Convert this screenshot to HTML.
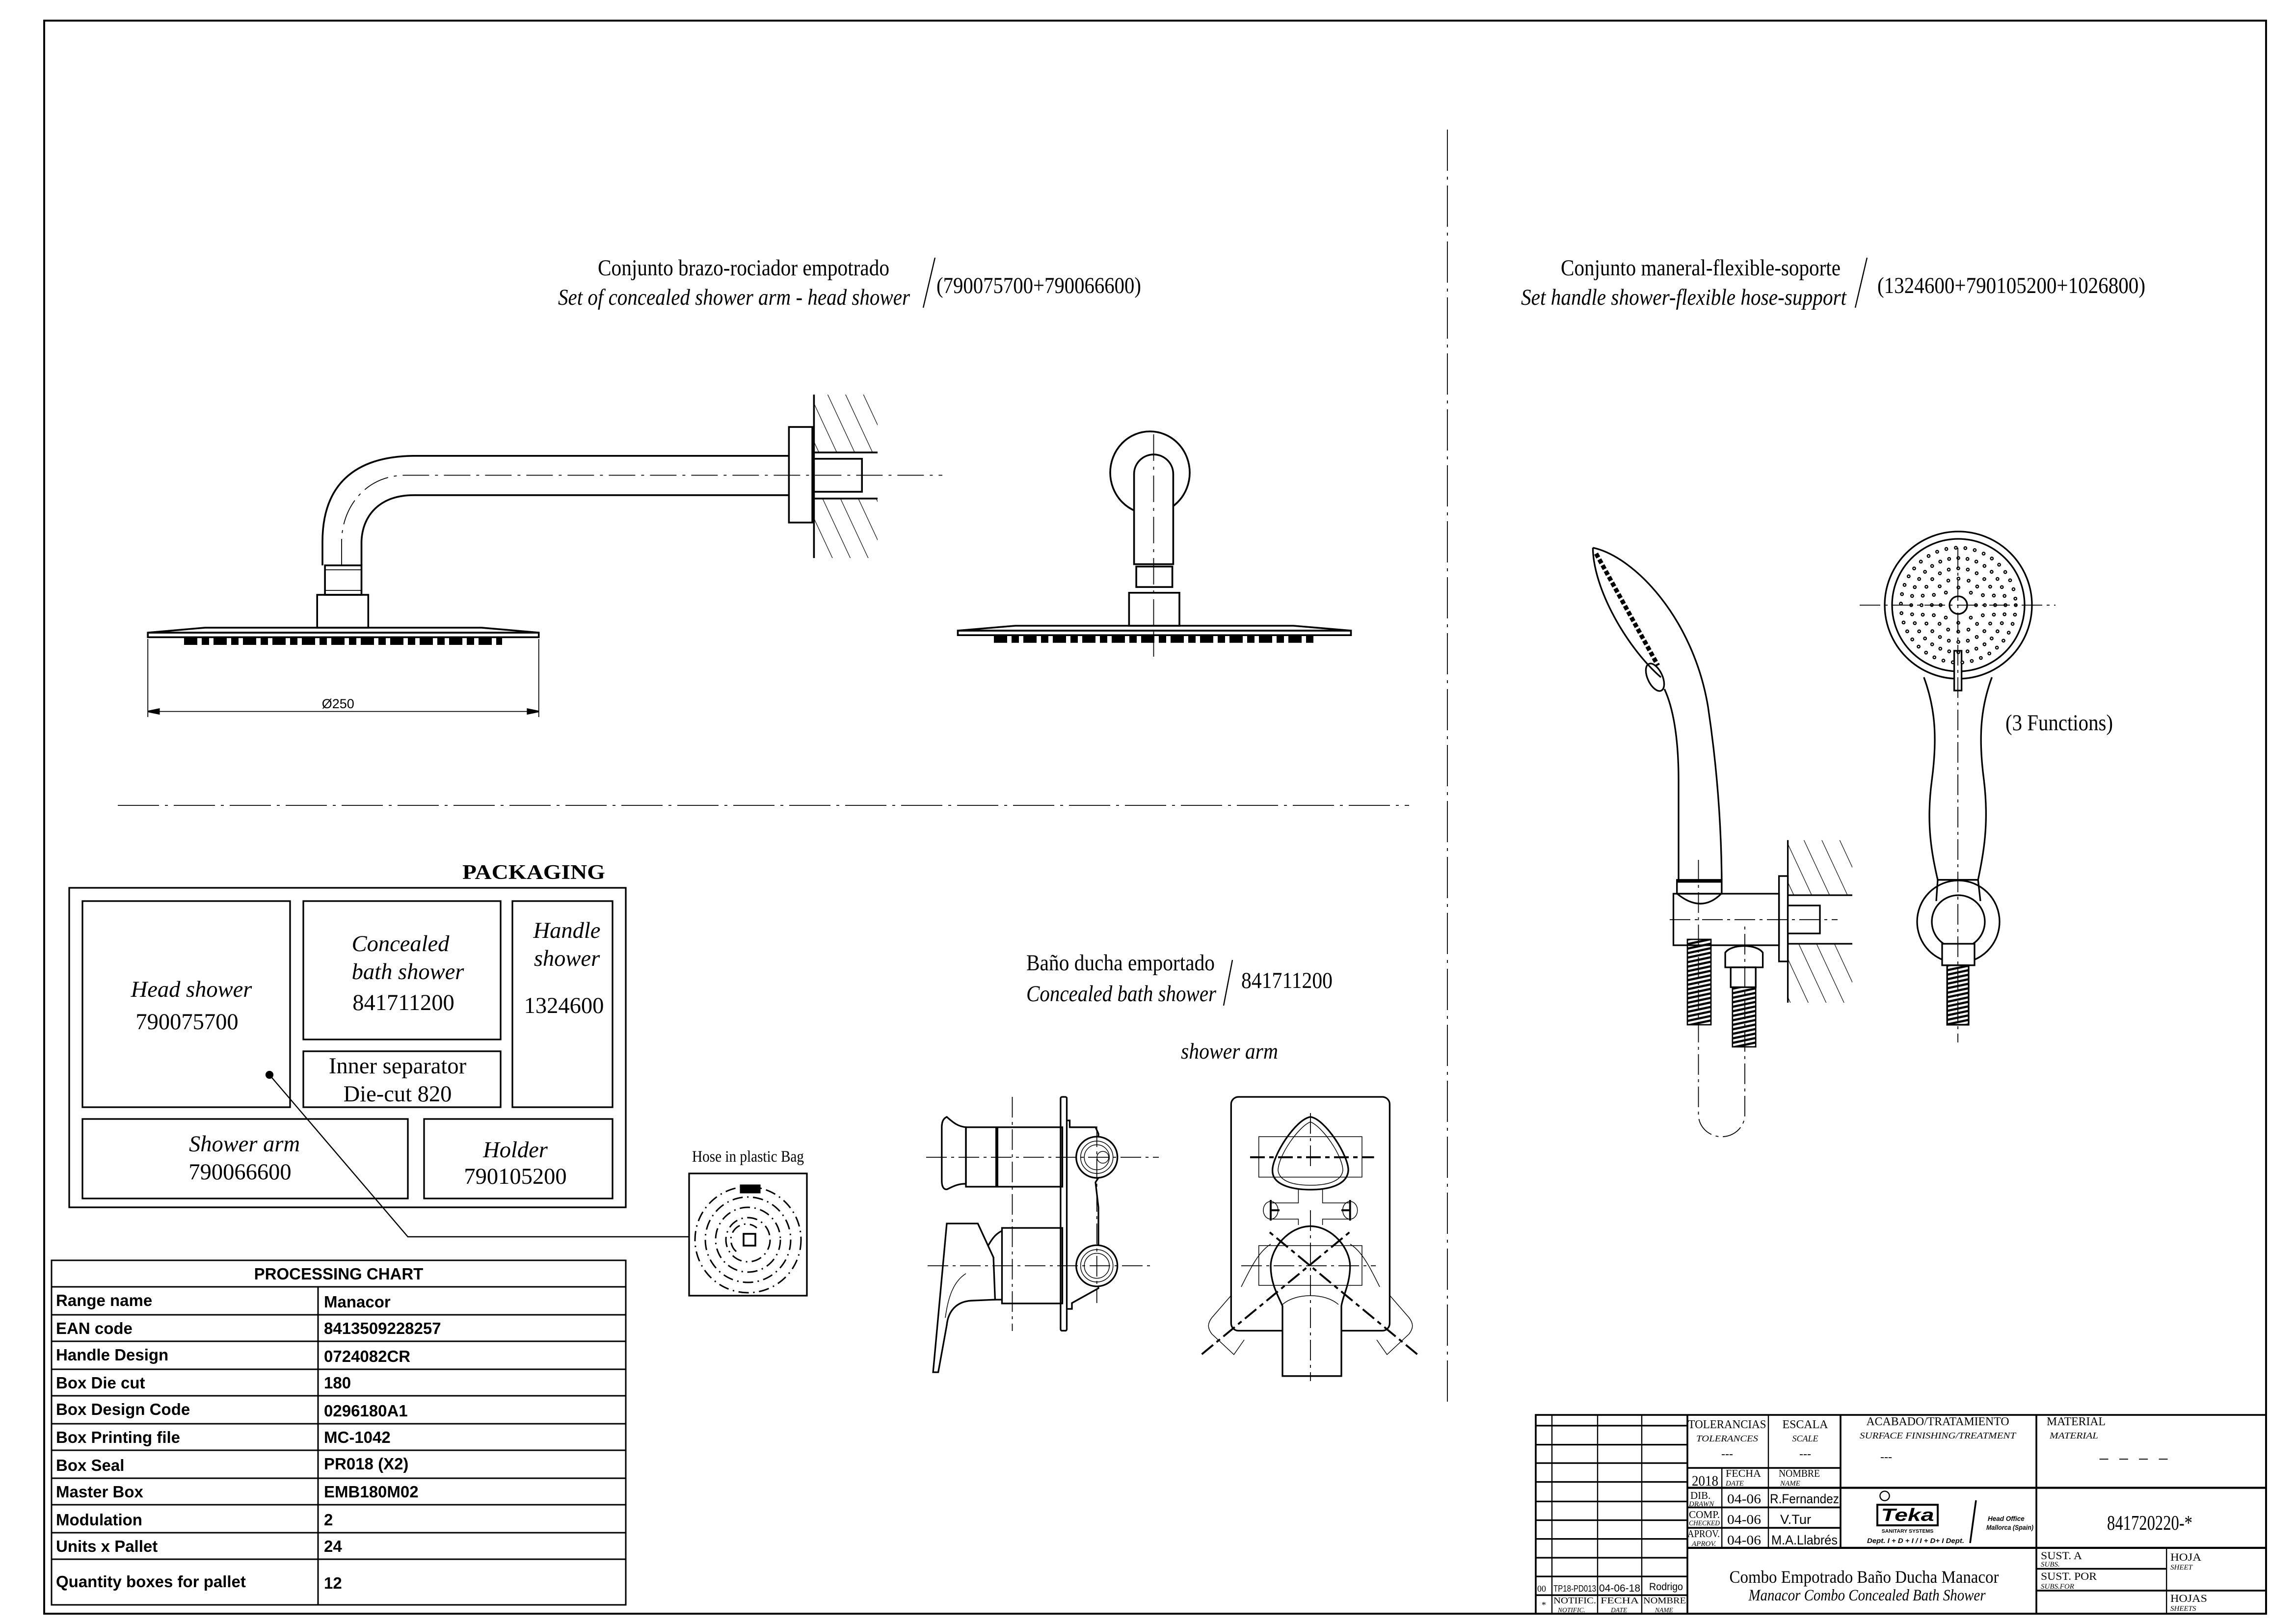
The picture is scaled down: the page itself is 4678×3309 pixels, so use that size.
<!DOCTYPE html>
<html><head><meta charset="utf-8">
<style>
html,body{margin:0;padding:0;background:#fff;}
svg{display:block;}
text{font-family:"Liberation Serif",serif;fill:#000;}
.s{font-family:"Liberation Sans",sans-serif;}
.i{font-style:italic;}
.b{font-weight:bold;}
</style></head>
<body>
<svg xmlns="http://www.w3.org/2000/svg" width="4678" height="3309" viewBox="0 0 1559.33 1103">
<defs>
<pattern id="hp" patternUnits="userSpaceOnUse" width="11" height="11" patternTransform="rotate(-25)">
<line x1="0" y1="0" x2="0" y2="11" stroke="#000" stroke-width="0.8"/>
</pattern>
<pattern id="hs" patternUnits="userSpaceOnUse" width="4" height="3" patternTransform="rotate(-12)">
<line x1="0" y1="1.5" x2="4" y2="1.5" stroke="#000" stroke-width="1.5"/>
</pattern>
<clipPath id="w1" clip-rule="evenodd"><path clip-rule="evenodd" d="M552.8,268H596V379H552.8Z M552.8,307.3V338.6H596V307.3Z"/></clipPath>
<clipPath id="w2" clip-rule="evenodd"><path clip-rule="evenodd" d="M1214.2,570.6H1258V681H1214.2Z M1214.2,608V641H1258V608Z"/></clipPath>
</defs>
<rect x="0" y="0" width="1559.33" height="1103" fill="#fff"/>
<g fill="none" stroke="#000" stroke-linecap="butt">
<rect x="30" y="14" width="1509" height="1082" stroke-width="1.3"/>
<line x1="983" y1="88" x2="983" y2="955" stroke-width="0.6" stroke-dasharray="28 4 2 4"/>
<line x1="80" y1="547" x2="957" y2="547" stroke-width="0.6" stroke-dasharray="28 4 2 4"/>

<!-- Shower arm side view -->
<rect x="552.8" y="268" width="43.2" height="111" fill="url(#hp)" stroke="none" clip-path="url(#w1)"/>
<g stroke-width="1.2">
<path d="M219,384 L219,368 C219,330 240,310 281,309.6 L535.8,309.6"/>
<path d="M245.5,384 L245.5,368 C246,350 258,336.3 281,336.3 L535.8,336.3"/>
<rect x="535.8" y="290" width="15.9" height="64.9"/>
<line x1="552.8" y1="268" x2="552.8" y2="379"/>
<line x1="552.8" y1="307.3" x2="596" y2="307.3"/>
<line x1="552.8" y1="338.6" x2="596" y2="338.6"/>
<rect x="552.8" y="311.6" width="32.6" height="22.4" fill="#fff"/>
<rect x="220.7" y="384" width="24.8" height="20"/>
<line x1="220.7" y1="387" x2="245.5" y2="387" stroke-width="0.6"/>
<line x1="220.7" y1="401" x2="245.5" y2="401" stroke-width="0.6"/>
<rect x="215.4" y="404" width="34.7" height="22.3"/>
<path d="M100.4,429.7 L139.3,426.3 L327,426.3 L365.9,429.7 Z"/>
<rect x="100.4" y="429.7" width="265.5" height="3.1"/>
</g>
<line x1="125" y1="435.5" x2="341" y2="435.5" stroke-width="5" stroke-dasharray="9 3 5 3"/>
<path d="M232,384 L232,368 C232,345 248,323 275,322.8 L640,322.8" stroke-width="0.6" stroke-dasharray="18 4 2 4"/>
<g stroke-width="0.6">
<line x1="100.4" y1="434" x2="100.4" y2="487"/>
<line x1="365.9" y1="434" x2="365.9" y2="487"/>
<line x1="100.4" y1="483.2" x2="365.9" y2="483.2"/>
</g>
<path d="M100.4,483.2 L108,481.6 L108,484.8Z M365.9,483.2 L358.3,481.6 L358.3,484.8Z" fill="#000"/>

<!-- Shower arm front view -->
<g stroke-width="1.2">
<ellipse cx="781" cy="321" rx="27" ry="28"/>
<path d="M770.2,383.2 L770.2,322 A13.3,13.3 0 0 1 796.8,322 L796.8,383.2 Z" fill="#fff"/>
<rect x="771.7" y="384.8" width="24.5" height="13.9"/>
<rect x="766.8" y="402.6" width="34.2" height="22.4"/>
<path d="M650.5,428.3 L689.5,425 L878.5,425 L917.5,428.3 Z"/>
<rect x="650.5" y="428.3" width="267" height="3.1"/>
</g>
<line x1="675" y1="434.3" x2="895" y2="434.3" stroke-width="4.6" stroke-dasharray="9 3 5 3"/>
<line x1="783.5" y1="295" x2="783.5" y2="446" stroke-width="0.6" stroke-dasharray="18 4 2 4"/>

<!-- Hand shower side view -->
<rect x="1214.2" y="570.6" width="43.8" height="110.4" fill="url(#hp)" stroke="none" clip-path="url(#w2)"/>
<g stroke-width="1.1">
<path d="M1081.8,372 C1110,378 1150,420 1160,480 C1166,520 1169,560 1169.3,597.6"/>
<path d="M1130.4,468 C1136,480 1140,500 1140,530 L1140,597.6"/>
<path d="M1081.8,372 C1082,400 1105,440 1128,460"/>
<path d="M1084,376 L1126,452" stroke-width="3" stroke-dasharray="3 1.5"/>
<ellipse cx="1124" cy="460" rx="5" ry="10" transform="rotate(-25 1124 460)"/>
<rect x="1138.9" y="597.6" width="30.4" height="9.4"/>
<line x1="1139" y1="598.5" x2="1169" y2="598.5" stroke-width="2"/>
<path d="M1136.5,607 L1208.2,607 L1208.2,642 L1136.5,642 Z"/>
<path d="M1139,607 C1150,616 1160,616 1169,607"/>
<rect x="1208.2" y="595" width="6" height="58"/>
<line x1="1214.2" y1="570.6" x2="1214.2" y2="681"/>
<line x1="1214.2" y1="608" x2="1258" y2="608"/>
<line x1="1214.2" y1="641" x2="1258" y2="641"/>
<rect x="1214.2" y="615" width="21.8" height="19" fill="#fff"/>
<path d="M1171.7,657 L1171.7,647 C1176,641 1193,641 1197.2,647 L1197.2,657 Z"/>
<rect x="1175.4" y="657" width="17" height="13.5"/>
</g>
<path d="M1153.5,584 L1153.5,757 A15.7,15 0 0 0 1185,757 L1185,627" stroke-width="0.6" stroke-dasharray="14 3 2 3"/>
<line x1="1134" y1="624.6" x2="1248" y2="624.6" stroke-width="0.6" stroke-dasharray="14 3 2 3"/>
<rect x="1146" y="638" width="16" height="58" fill="url(#hs)" stroke-width="0.9"/>
<rect x="1176.6" y="670.5" width="15.8" height="40.5" fill="url(#hs)" stroke-width="0.9"/>

<!-- Hand shower front view -->
<g stroke-width="1.1">
<path d="M1306.6,460 C1314,480 1316,500 1312,530 C1308,560 1312,580 1316,597.6 L1343.4,597.6 C1347,580 1351,560 1347.4,530 C1343.4,500 1345.4,480 1352.8,460"/>
<circle cx="1330" cy="411" r="50" fill="#fff"/>
<circle cx="1330" cy="411" r="45"/>
<circle cx="1330" cy="626" r="28"/>
<path d="M1316,597.6 L1343.4,597.6 L1345,612"/>
<path d="M1316,597.6 L1315,612"/>
<circle cx="1330" cy="626" r="18" fill="#fff"/>
<rect x="1319" y="641" width="22" height="14.6" fill="#fff"/>
<rect x="1322.4" y="655.6" width="14.6" height="40.4" fill="url(#hs)"/>
<rect x="1327.2" y="442" width="5" height="27" fill="#fff"/>
<circle cx="1330" cy="411" r="6"/>
</g>
<g stroke-linecap="round" stroke-width="2.6">
<circle cx="1330" cy="411" r="12" stroke-dasharray="0 9.42"/>
<circle cx="1330" cy="411" r="18" stroke-dasharray="0 7.07"/>
<circle cx="1330" cy="411" r="25" stroke-dasharray="0 6.54"/>
<circle cx="1330" cy="411" r="32" stroke-dasharray="0 6.28"/>
<circle cx="1330" cy="411" r="39" stroke-dasharray="0 6.5"/>
</g>
<g stroke-linecap="round" stroke-width="1" stroke="#fff">
<circle cx="1330" cy="411" r="12" stroke-dasharray="0 9.42"/>
<circle cx="1330" cy="411" r="18" stroke-dasharray="0 7.07"/>
<circle cx="1330" cy="411" r="25" stroke-dasharray="0 6.54"/>
<circle cx="1330" cy="411" r="32" stroke-dasharray="0 6.28"/>
<circle cx="1330" cy="411" r="39" stroke-dasharray="0 6.5"/>
</g>
<line x1="1263" y1="411" x2="1396" y2="411" stroke-width="0.6" stroke-dasharray="14 3 2 3"/>
<line x1="1329.7" y1="372" x2="1329.7" y2="708" stroke-width="0.6" stroke-dasharray="14 3 2 3"/>

<!-- Valve side view -->
<g stroke-width="1.1">
<path d="M643,758.6 C640,760 639.6,763 639.6,766 L639.6,802 C639.6,806 641,808 643,807.8 C647,806 650,804 656,804 L656,765.6 C650,765 647,762 643,758.6Z"/>
<rect x="656" y="765.6" width="65.5" height="40.4"/>
<line x1="677" y1="765.6" x2="677" y2="806" stroke-width="2"/>
<rect x="720.3" y="745" width="4.2" height="158.8" rx="1"/>
<path d="M724.5,761 L726.5,761 L726.5,765.6 L744,765.6 L746,770 L746,800 L744,803 L746,820 L746,845 L744,848 L746,875 L728,885 L728,889 L724.5,889"/>
<circle cx="744.9" cy="786" r="14" fill="#fff"/>
<circle cx="744.9" cy="786" r="11" stroke-width="0.5"/>
<circle cx="744.9" cy="786" r="8.5" stroke-width="0.5"/>
<circle cx="749" cy="786" r="4" stroke-width="0.5"/>
<circle cx="744.9" cy="859.7" r="14" fill="#fff"/>
<circle cx="744.9" cy="859.7" r="11" stroke-width="0.5"/>
<circle cx="744.9" cy="859.7" r="8.5" stroke-width="0.5"/>
<rect x="680.5" y="834" width="41" height="51.3"/>
<path d="M680.5,836 C676,838 673,842 669,850 L674.7,854 L674.7,882.7 L680.5,882.7"/>
<path d="M643,831 L664.1,831 L674.7,854 L675.8,882.7 L659.5,883.4 C650,884 644,890 643,900 L637.2,932 L633.7,932 L643,831Z" fill="#fff"/>
<path d="M656,865 C648,870 644,880 642,895" stroke-width="0.5"/>
</g>
<g stroke-width="0.6" stroke-dasharray="14 3 2 3">
<line x1="629" y1="786" x2="787" y2="786"/>
<line x1="630" y1="859.7" x2="781" y2="859.7"/>
<line x1="687.5" y1="745" x2="687.5" y2="904"/>
<line x1="744.9" y1="765" x2="744.9" y2="885"/>
</g>

<!-- Valve front view -->
<g stroke-width="1.1">
<rect x="836.1" y="745" width="107.7" height="158.8" rx="5"/>
<path d="M890,758.6 C900,760 916,785 915.7,795 C915,805 902,808 890,808 C878,808 864,805 864.2,795 C864,785 880,760 890,758.6Z"/>
<path d="M890,762 C898,765 912,785 912,795 C911,803 900,805 890,805 C880,805 869,803 868,795 C868,785 882,765 890,762Z" stroke-width="0.5"/>
<path d="M890,832.8 C905,833 916.9,848 916.9,860 C916.9,872 912,880 911,887 L911,934.6 L871,934.6 L871,887 C868,880 863,872 863,860 C863,848 875,833 890,832.8Z" fill="#fff"/>
</g>
<g stroke-width="0.5">
<rect x="854.9" y="772" width="70.1" height="27.5"/>
<rect x="854.9" y="846" width="70.1" height="27"/>
<path d="M881.8,808 L881.8,817 L863,817 L863,828 L881.8,828 L881.8,832 M898.2,808 L898.2,817 L916.9,817 L916.9,828 L898.2,828 L898.2,832"/>
<ellipse cx="863" cy="822" rx="5" ry="6"/>
<ellipse cx="916.9" cy="822" rx="5" ry="6"/>
<path d="M843,874 C850,860 855,850 863,845"/>
<path d="M937,874 C930,860 925,850 917,845"/>
<path d="M836,880 L823,895 C820,899 820,902 823,906 L838,920 L845,910"/>
<path d="M944,880 L957,895 C960,899 960,902 957,906 L942,920 L935,910"/>
<path d="M871,886 C880,878 900,878 909,886"/>
</g>
<g stroke-width="1.3">
<line x1="863" y1="822" x2="869" y2="822"/><line x1="863" y1="815" x2="863" y2="829"/>
<line x1="911" y1="822" x2="917" y2="822"/><line x1="916.9" y1="815" x2="916.9" y2="829"/>
<line x1="849" y1="786" x2="933.2" y2="786" stroke-dasharray="10 3 3 3"/>
<line x1="816.2" y1="919.8" x2="916.9" y2="836.6" stroke-dasharray="10 3 3 3"/>
<line x1="962.5" y1="919.8" x2="861.9" y2="836.6" stroke-dasharray="10 3 3 3"/>
</g>
<g stroke-width="0.6" stroke-dasharray="14 3 2 3">
<line x1="890" y1="756" x2="890" y2="794"/>
<line x1="843" y1="859.7" x2="934.4" y2="859.7"/>
<line x1="890" y1="822" x2="890" y2="938"/>
</g>

<!-- Packaging -->
<g stroke-width="1.1">
<rect x="47" y="603" width="378" height="217"/>
<rect x="56" y="612" width="141" height="140"/>
<rect x="206" y="612" width="134" height="94"/>
<rect x="206" y="714" width="134" height="38"/>
<rect x="348" y="612" width="68" height="140"/>
<rect x="56" y="760" width="221" height="54"/>
<rect x="288" y="760" width="128" height="54"/>
</g>
<polyline points="183,730 277,840 468,840" stroke-width="0.8"/>
<circle cx="183" cy="730" r="2.2" fill="#000"/>
<rect x="468" y="797" width="80" height="83" stroke-width="1.1"/>
<g stroke-width="1" stroke-dasharray="7 3 1 3">
<circle cx="508" cy="842" r="36"/>
<circle cx="508" cy="842" r="29"/>
<circle cx="508" cy="842" r="22"/>
<circle cx="508" cy="842" r="15"/>
<path d="M500,850 A9,9 0 1 1 514,834"/>
</g>
<rect x="503" y="805" width="13" height="5" fill="#000"/>
<rect x="505" y="838" width="8" height="8" stroke-width="1.2"/>

<!-- Processing chart -->
<g stroke-width="1">
<rect x="35" y="856" width="390" height="234"/>
<line x1="216" y1="874" x2="216" y2="1090"/>
<line x1="35" y1="874" x2="425" y2="874"/>
<line x1="35" y1="893" x2="425" y2="893"/>
<line x1="35" y1="911" x2="425" y2="911"/>
<line x1="35" y1="930" x2="425" y2="930"/>
<line x1="35" y1="948" x2="425" y2="948"/>
<line x1="35" y1="967" x2="425" y2="967"/>
<line x1="35" y1="985" x2="425" y2="985"/>
<line x1="35" y1="1004" x2="425" y2="1004"/>
<line x1="35" y1="1022" x2="425" y2="1022"/>
<line x1="35" y1="1041" x2="425" y2="1041"/>
<line x1="35" y1="1059" x2="425" y2="1059"/>
</g>

<!-- Title block -->
<g stroke-width="0.8">
<rect x="1043" y="961" width="496" height="135" stroke-width="1.2"/>
<line x1="1054" y1="961" x2="1054" y2="1096"/>
<line x1="1085" y1="961" x2="1085" y2="1096"/>
<line x1="1115" y1="961" x2="1115" y2="1096"/>
<line x1="1146" y1="961" x2="1146" y2="1096" stroke-width="1.2"/>
<g stroke-width="1.1">
<line x1="1043" y1="968.3" x2="1146" y2="968.3"/>
<line x1="1043" y1="981.2" x2="1146" y2="981.2"/>
<line x1="1043" y1="993.7" x2="1146" y2="993.7"/>
<line x1="1043" y1="1006.5" x2="1146" y2="1006.5"/>
<line x1="1043" y1="1019.8" x2="1146" y2="1019.8"/>
<line x1="1043" y1="1032.5" x2="1146" y2="1032.5"/>
<line x1="1043" y1="1045.2" x2="1146" y2="1045.2"/>
<line x1="1043" y1="1058" x2="1146" y2="1058"/>
<line x1="1043" y1="1070.7" x2="1146" y2="1070.7"/>
<line x1="1043" y1="1083.4" x2="1146" y2="1083.4"/>
</g>
<line x1="1201" y1="961" x2="1201" y2="1051"/>
<line x1="1250" y1="961" x2="1250" y2="1051" stroke-width="1.2"/>
<line x1="1383" y1="961" x2="1383" y2="1096" stroke-width="1.2"/>
<line x1="1146" y1="997" x2="1250" y2="997" stroke-width="1.2"/>
<line x1="1169.4" y1="997" x2="1169.4" y2="1051"/>
<line x1="1146" y1="1010.5" x2="1539" y2="1010.5" stroke-width="1.4"/>
<line x1="1146" y1="1023.8" x2="1250" y2="1023.8" stroke-width="1.2"/>
<line x1="1146" y1="1037.7" x2="1250" y2="1037.7" stroke-width="1.2"/>
<line x1="1146" y1="1051.3" x2="1539" y2="1051.3" stroke-width="1.4"/>
<line x1="1471.4" y1="1051.3" x2="1471.4" y2="1096"/>
<line x1="1383" y1="1065.5" x2="1471.4" y2="1065.5" stroke-width="1.2"/>
<line x1="1383" y1="1080.3" x2="1539" y2="1080.3" stroke-width="1.2"/>
<line x1="1342" y1="1019" x2="1338" y2="1048" stroke-width="1.2"/>
<circle cx="1280" cy="1016" r="3.2"/>
<path d="M1275,1022 L1316,1022 L1316,1036 L1275,1036 Z" stroke-width="1.3"/>
</g>
</g>

<!-- TEXT -->
<text x="505" y="187" font-size="15.5" text-anchor="middle" textLength="198" lengthAdjust="spacingAndGlyphs">Conjunto brazo-rociador empotrado</text>
<text x="379" y="207" font-size="15.5" class="i" textLength="239" lengthAdjust="spacingAndGlyphs">Set of concealed shower arm - head shower</text>
<line x1="635" y1="175" x2="627" y2="209" stroke="#000" stroke-width="0.8"/>
<text x="636" y="199" font-size="15.5" textLength="139" lengthAdjust="spacingAndGlyphs">(790075700+790066600)</text>

<text x="1060" y="187" font-size="15.5" textLength="190" lengthAdjust="spacingAndGlyphs">Conjunto maneral-flexible-soporte</text>
<text x="1033" y="207" font-size="15.5" class="i" textLength="221" lengthAdjust="spacingAndGlyphs">Set handle shower-flexible hose-support</text>
<line x1="1268" y1="175" x2="1260" y2="209" stroke="#000" stroke-width="0.8"/>
<text x="1275" y="199" font-size="15.5" textLength="182" lengthAdjust="spacingAndGlyphs">(1324600+790105200+1026800)</text>

<text x="697" y="659" font-size="15.5" textLength="128" lengthAdjust="spacingAndGlyphs">Baño ducha emportado</text>
<text x="697" y="680" font-size="15.5" class="i" textLength="129" lengthAdjust="spacingAndGlyphs">Concealed bath shower</text>
<line x1="837" y1="652" x2="831" y2="683" stroke="#000" stroke-width="0.8"/>
<text x="843" y="671" font-size="15.5" textLength="62" lengthAdjust="spacingAndGlyphs">841711200</text>
<text x="802" y="719" font-size="15" class="i" textLength="66" lengthAdjust="spacingAndGlyphs">shower arm</text>
<text x="1362" y="496" font-size="15.5" textLength="73" lengthAdjust="spacingAndGlyphs">(3 Functions)</text>
<text x="229.6" y="481" font-size="9" class="s" text-anchor="middle" textLength="22" lengthAdjust="spacingAndGlyphs">Ø250</text>

<text x="314" y="597" font-size="14" class="b" textLength="97" lengthAdjust="spacingAndGlyphs">PACKAGING</text>
<g font-size="15.5" text-anchor="middle">
<text x="130" y="677" class="i">Head shower</text>
<text x="127" y="699">790075700</text>
<text x="272" y="646" class="i">Concealed</text>
<text x="277" y="665" class="i">bath shower</text>
<text x="274" y="686">841711200</text>
<text x="270" y="729">Inner separator</text>
<text x="270" y="748">Die-cut 820</text>
<text x="385" y="637" class="i">Handle</text>
<text x="385" y="656" class="i">shower</text>
<text x="383" y="688">1324600</text>
<text x="166" y="782" class="i">Shower arm</text>
<text x="163" y="801">790066600</text>
<text x="350" y="786" class="i">Holder</text>
<text x="350" y="804">790105200</text>
</g>
<text x="508" y="789" font-size="11" text-anchor="middle" textLength="76" lengthAdjust="spacingAndGlyphs">Hose in plastic Bag</text>

<g font-size="11">
<text x="230" y="869" text-anchor="middle" class="s b">PROCESSING CHART</text>
<text x="38" y="887" class="s b">Range name</text><text x="220" y="888" class="s b">Manacor</text>
<text x="38" y="906" class="s b">EAN code</text><text x="220" y="906" class="s b">8413509228257</text>
<text x="38" y="924" class="s b">Handle Design</text><text x="220" y="925" class="s b">0724082CR</text>
<text x="38" y="943" class="s b">Box Die cut</text><text x="220" y="943" class="s b">180</text>
<text x="38" y="961" class="s b">Box Design Code</text><text x="220" y="962" class="s b">0296180A1</text>
<text x="38" y="980" class="s b">Box Printing file</text><text x="220" y="980" class="s b">MC-1042</text>
<text x="38" y="999" class="s b">Box Seal</text><text x="220" y="998" class="s b">PR018 (X2)</text>
<text x="38" y="1017" class="s b">Master Box</text><text x="220" y="1017" class="s b">EMB180M02</text>
<text x="38" y="1036" class="s b">Modulation</text><text x="220" y="1036" class="s b">2</text>
<text x="38" y="1054" class="s b">Units x Pallet</text><text x="220" y="1054" class="s b">24</text>
<text x="38" y="1078" class="s b">Quantity boxes for pallet</text><text x="220" y="1079" class="s b">12</text>
</g>

<g font-size="8">
<text x="1173" y="970" text-anchor="middle" textLength="53" lengthAdjust="spacingAndGlyphs">TOLERANCIAS</text>
<text x="1173" y="979" text-anchor="middle" font-size="6" class="i" textLength="42" lengthAdjust="spacingAndGlyphs">TOLERANCES</text>
<text x="1173" y="990" text-anchor="middle">---</text>
<text x="1226" y="970" text-anchor="middle" textLength="31" lengthAdjust="spacingAndGlyphs">ESCALA</text>
<text x="1226" y="979" text-anchor="middle" font-size="6" class="i">SCALE</text>
<text x="1226" y="990" text-anchor="middle">---</text>
<text x="1316" y="968" text-anchor="middle" textLength="97" lengthAdjust="spacingAndGlyphs">ACABADO/TRATAMIENTO</text>
<text x="1316" y="977" text-anchor="middle" font-size="6" class="i" textLength="106" lengthAdjust="spacingAndGlyphs">SURFACE FINISHING/TREATMENT</text>
<text x="1277" y="992">---</text>
<text x="1390" y="968" textLength="40" lengthAdjust="spacingAndGlyphs">MATERIAL</text>
<text x="1392" y="977" font-size="6" class="i" textLength="33" lengthAdjust="spacingAndGlyphs">MATERIAL</text>
<text x="1425" y="993" textLength="48" lengthAdjust="spacingAndGlyphs">-  -  -  -</text>
<text x="1149" y="1009" font-size="10" textLength="18" lengthAdjust="spacingAndGlyphs">2018</text>
<text x="1172" y="1003" font-size="7" textLength="24" lengthAdjust="spacingAndGlyphs">FECHA</text>
<text x="1172" y="1009" font-size="5" class="i">DATE</text>
<text x="1208" y="1003" font-size="7" textLength="28" lengthAdjust="spacingAndGlyphs">NOMBRE</text>
<text x="1209" y="1009" font-size="5" class="i">NAME</text>
<text x="1148" y="1018" font-size="7">DIB.</text>
<text x="1147" y="1023" font-size="5" class="i">DRAWN</text>
<text x="1173" y="1021" font-size="9" textLength="23" lengthAdjust="spacingAndGlyphs">04-06</text>
<text x="1202" y="1021" font-size="9" class="s" textLength="47" lengthAdjust="spacingAndGlyphs">R.Fernandez</text>
<text x="1147" y="1031" font-size="7" textLength="21" lengthAdjust="spacingAndGlyphs">COMP.</text>
<text x="1147" y="1036" font-size="5" class="i" textLength="21" lengthAdjust="spacingAndGlyphs">CHECKED</text>
<text x="1173" y="1035" font-size="9" textLength="23" lengthAdjust="spacingAndGlyphs">04-06</text>
<text x="1209" y="1035" font-size="9" class="s" textLength="21" lengthAdjust="spacingAndGlyphs">V.Tur</text>
<text x="1146" y="1044" font-size="7" textLength="22" lengthAdjust="spacingAndGlyphs">APROV.</text>
<text x="1149" y="1050" font-size="5" class="i">APROV.</text>
<text x="1173" y="1049" font-size="9" textLength="23" lengthAdjust="spacingAndGlyphs">04-06</text>
<text x="1203" y="1049" font-size="9" class="s" textLength="45" lengthAdjust="spacingAndGlyphs">M.A.Llabrés</text>
<text x="1295.5" y="1033" font-size="12" class="s b i" text-anchor="middle" textLength="36" lengthAdjust="spacingAndGlyphs">Teka</text>
<text x="1295.5" y="1041" font-size="3.5" class="s b" text-anchor="middle">SANITARY SYSTEMS</text>
<text x="1268" y="1048" font-size="4.5" class="s b i" textLength="66" lengthAdjust="spacingAndGlyphs">Dept. I + D + I / I + D+ I Dept.</text>
<text x="1350" y="1033" font-size="4.5" class="s b i">Head Office</text>
<text x="1349" y="1039" font-size="4.5" class="s b i" textLength="32" lengthAdjust="spacingAndGlyphs">Mallorca (Spain)</text>
<text x="1460" y="1039" font-size="14" text-anchor="middle" textLength="58" lengthAdjust="spacingAndGlyphs">841720220-*</text>
<text x="1266" y="1075" font-size="12" text-anchor="middle" textLength="183" lengthAdjust="spacingAndGlyphs">Combo Empotrado Baño Ducha Manacor</text>
<text x="1268" y="1087" font-size="11" text-anchor="middle" class="i" textLength="161" lengthAdjust="spacingAndGlyphs">Manacor Combo Concealed Bath Shower</text>
<text x="1386" y="1059" font-size="7.5" textLength="28" lengthAdjust="spacingAndGlyphs">SUST. A</text>
<text x="1386" y="1064" font-size="5" class="i">SUBS.</text>
<text x="1386" y="1073" font-size="7.5" textLength="38" lengthAdjust="spacingAndGlyphs">SUST. POR</text>
<text x="1386" y="1079" font-size="5" class="i">SUBS.FOR</text>
<text x="1474" y="1060" font-size="7.5" textLength="21" lengthAdjust="spacingAndGlyphs">HOJA</text>
<text x="1474" y="1066" font-size="5" class="i">SHEET</text>
<text x="1474" y="1088" font-size="7.5" textLength="25" lengthAdjust="spacingAndGlyphs">HOJAS</text>
<text x="1474" y="1094" font-size="5" class="i">SHEETS</text>
<text x="1044" y="1081" font-size="6">00</text>
<text x="1055" y="1081" font-size="6" class="s" textLength="29" lengthAdjust="spacingAndGlyphs">TP18-PD013</text>
<text x="1086" y="1081" font-size="7" class="s" textLength="28" lengthAdjust="spacingAndGlyphs">04-06-18</text>
<text x="1120" y="1080" font-size="7" class="s" textLength="23" lengthAdjust="spacingAndGlyphs">Rodrigo</text>
<text x="1047" y="1092" font-size="6">*</text>
<text x="1055" y="1089" font-size="6" textLength="29" lengthAdjust="spacingAndGlyphs">NOTIFIC.</text>
<text x="1058" y="1095" font-size="4.5" class="i">NOTIFIC.</text>
<text x="1087" y="1089" font-size="6" textLength="26" lengthAdjust="spacingAndGlyphs">FECHA</text>
<text x="1094" y="1095" font-size="4.5" class="i">DATE</text>
<text x="1116" y="1089" font-size="6" textLength="29" lengthAdjust="spacingAndGlyphs">NOMBRE</text>
<text x="1124" y="1095" font-size="4.5" class="i">NAME</text>
</g>
</svg>
</body></html>
